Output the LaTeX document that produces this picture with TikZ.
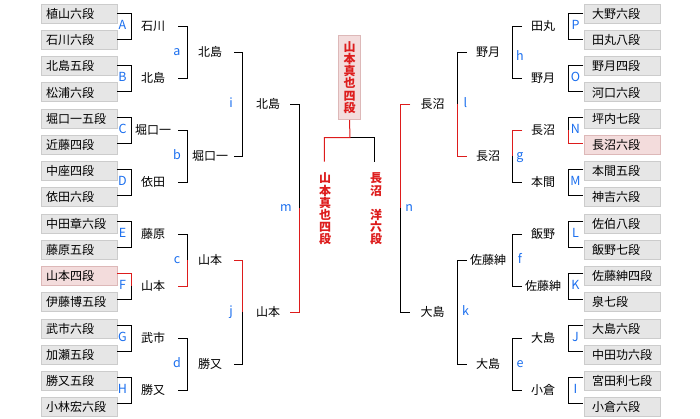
\documentclass[tikz,border=0pt]{standalone}
\usepackage{fontspec}
\setmainfont{Noto Sans CJK JP}
\definecolor{boxf}{HTML}{E6E6E6}
\definecolor{boxb}{HTML}{CCCCCC}
\definecolor{pinkf}{HTML}{F3DCDC}
\definecolor{pinkb}{HTML}{DDB8B8}
\definecolor{winred}{HTML}{DD1C1C}
\definecolor{lblue}{HTML}{1A6EEE}
\begin{document}
\begin{tikzpicture}[x=1pt,y=-1pt,
  pbox/.style={draw=boxb, fill=boxf, line width=1pt, minimum height=19pt, inner ysep=0pt, anchor=north west, align=left, font=\fontsize{12}{14}\selectfont},
  lbox/.style={pbox, inner xsep=5.2pt, text width=65.6pt},
  rbox/.style={pbox, inner xsep=7.8pt, text width=60.4pt},
  plain/.style={},
  hl/.style={fill=pinkf, draw=pinkb},
  pname/.style={font=\fontsize{12}{14}\selectfont, inner sep=0pt},
  lab/.style={text=lblue, font=\fontsize{12.5}{14}\selectfont, inner sep=0pt, text height=9pt, text depth=2pt},
  br/.style={line width=1pt},
  rbr/.style={line width=1pt, draw=winred},
  vtext/.style={font=\fontsize{12}{12.2}\selectfont\bfseries, text=winred, align=center, inner sep=0pt},
]
\useasboundingbox (0,0) rectangle (700,418);
% player boxes
\foreach \t/\s [count=\i] in {植山六段/plain,石川六段/plain,北島五段/plain,松浦六段/plain,堀口一五段/plain,近藤四段/plain,中座四段/plain,依田六段/plain,中田章六段/plain,藤原五段/plain,山本四段/hl,伊藤博五段/plain,武市六段/plain,加瀬五段/plain,勝又五段/plain,小林宏六段/plain}
  \node[lbox,\s] (L\i) at (40.5,{3.8+26.23*(\i-1)}) {\t};
\foreach \t/\s [count=\i] in {大野六段/plain,田丸八段/plain,野月四段/plain,河口六段/plain,坪内七段/plain,長沼六段/hl,本間五段/plain,神吉六段/plain,佐伯八段/plain,飯野七段/plain,佐藤紳四段/plain,泉七段/plain,大島六段/plain,中田功六段/plain,宮田利七段/plain,小倉六段/plain}
  \node[rbox,\s] (R\i) at (583.8,{3.8+26.23*(\i-1)}) {\t};
% left round 1
\foreach \w/\l [count=\k] in {石川/A,北島/B,堀口一/C,依田/D,藤原/E,山本/F,武市/G,勝又/H} {
  \pgfmathsetmacro\ym{26.3+52*(\k-1)}
  \draw[br] (117,\ym-13) -- (131.7,\ym-13) -- (131.7,\ym+13) -- (117,\ym+13);
  \node[lab] (la\k) at (122.5,\ym) {\l};
  \node[pname] (w1L\k) at (153,\ym) {\w};
}
% right round 1
\foreach \w/\l [count=\k] in {田丸/P,野月/O,長沼/N,本間/M,飯野/L,佐藤紳/K,大島/J,小倉/I} {
  \pgfmathsetmacro\ym{26.3+52*(\k-1)}
  \draw[br] (583.3,\ym-13) -- (568.7,\ym-13) -- (568.7,\ym+13) -- (583.3,\ym+13);
  \node[lab] (ra\k) at (575.5,\ym) {\l};
  \node[pname] (w1R\k) at (543,\ym) {\w};
}
% left round 2
\foreach \w/\l [count=\k] in {北島/a,堀口一/b,山本/c,勝又/d} {
  \pgfmathsetmacro\ym{52.3+104*(\k-1)}
  \draw[br] (178,\ym-26) -- (187.3,\ym-26) -- (187.3,\ym+26) -- (178,\ym+26);
  \node[lab] (lb\k) at (177,\ym) {\l};
  \node[pname] (w2L\k) at (210,\ym) {\w};
}
% right round 2
\foreach \w/\l/\ly [count=\k] in {野月/h/57,長沼/g/156.3,佐藤紳/f/260.3,大島/e/364.3} {
  \pgfmathsetmacro\ym{52.3+104*(\k-1)}
  \draw[br] (522,\ym-26) -- (512.7,\ym-26) -- (512.7,\ym+26) -- (522,\ym+26);
  \node[lab] (rb\k) at (520,\ly) {\l};
  \node[pname] (w2R\k) at (488,\ym) {\w};
}
% left round 3
\foreach \w/\l [count=\k] in {北島/i,山本/j} {
  \pgfmathsetmacro\ym{104.3+208*(\k-1)}
  \draw[br] (234,\ym-52) -- (242.3,\ym-52) -- (242.3,\ym+52) -- (234,\ym+52);
  \node[lab] (lc\k) at (231,\ym) {\l};
  \node[pname] (w3L\k) at (268,\ym) {\w};
}
% right round 3
\foreach \w/\l [count=\k] in {長沼/l,大島/k} {
  \pgfmathsetmacro\ym{104.3+208*(\k-1)}
  \draw[br] (466.7,\ym-52) -- (457.7,\ym-52) -- (457.7,\ym+52) -- (466.7,\ym+52);
  \node[lab] (rc\k) at (465.5,\ym) {\l};
  \node[pname] (w3R\k) at (432.7,\ym) {\w};
}
% semifinals
\draw[br] (290,104.3) -- (299,104.3) -- (299,312.3) -- (290,312.3);
\node[lab] (lm) at (286,208.3) {m};
\draw[br] (410,104.3) -- (400.7,104.3) -- (400.7,312.3) -- (410,312.3);
\node[lab] (rn) at (409.3,208.3) {n};
% winner path (red)
\draw[rbr] (117,273.3) -- (131.7,273.3) -- (131.7,286.3);
\draw[rbr] (187.3,260.3) -- (187.3,286.3) -- (178,286.3);
\draw[rbr] (234,260.3) -- (242.3,260.3) -- (242.3,312.3);
\draw[rbr] (299,208.3) -- (299,312.3) -- (290,312.3);
\draw[rbr] (410,104.3) -- (400.7,104.3) -- (400.7,208.3);
\draw[rbr] (457.7,104.3) -- (457.7,156.3) -- (466.7,156.3);
\draw[rbr] (522,130.3) -- (512.7,130.3) -- (512.7,156.3);
\draw[rbr] (568.7,130.3) -- (568.7,143.3) -- (583.3,143.3);
% final
\node[draw=pinkb, fill=pinkf, line width=1pt, minimum width=21.4pt, minimum height=84pt, inner sep=0pt] (champ) at (349.5,77.5) {};
\node[vtext] (champtxt) at (champ.center) {山\\本\\真\\也\\四\\段};
\coordinate (fj) at (350,137.7);
\coordinate (fl) at (324.3,161.7);
\coordinate (fr) at (374.3,161.7);
\draw[br] (fj) -- (fr |- fj) -- (fr);
\draw[rbr] (champ.south) -- (fj) -- (fl |- fj) -- (fl);
\node[vtext] (fL) at (325,209) {山\\本\\真\\也\\四\\段};
\node[vtext] (fR) at (376,209) {長\\沼\\\phantom{洋}\\洋\\六\\段};
\end{tikzpicture}
\end{document}
